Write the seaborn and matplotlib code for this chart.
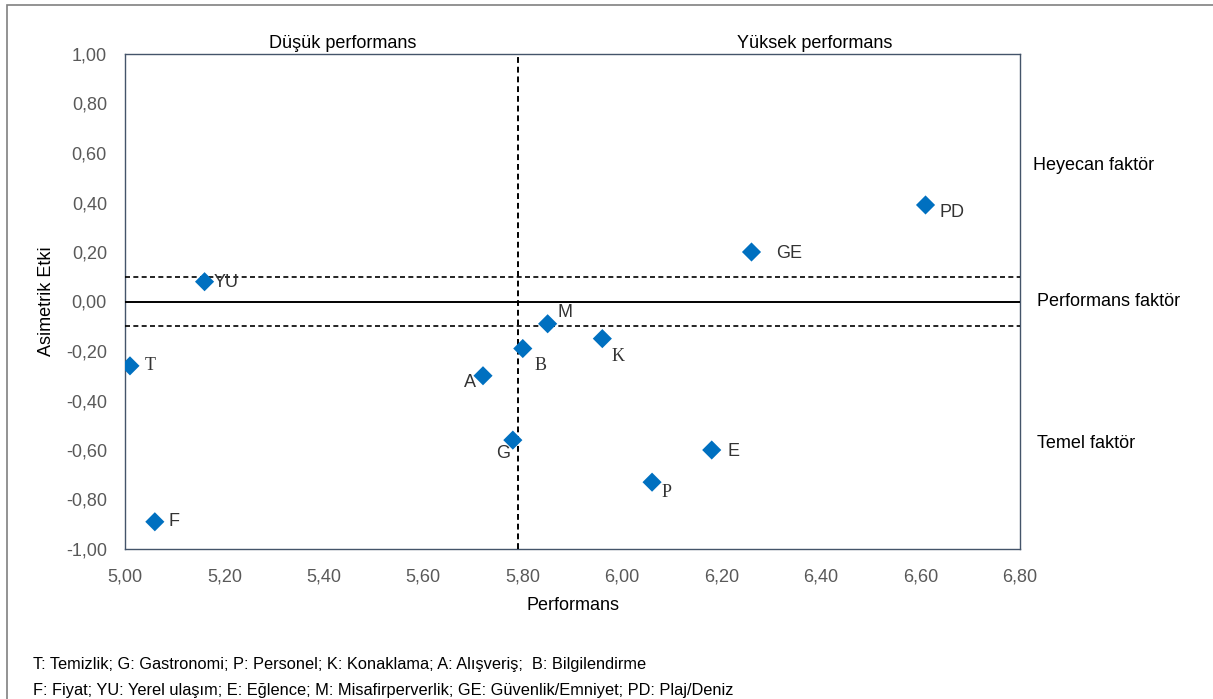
import matplotlib
matplotlib.use("Agg")
import matplotlib.pyplot as plt
import seaborn as sns
import pandas as pd
from matplotlib.ticker import FuncFormatter, MultipleLocator
from matplotlib.patches import Rectangle

# ---- data ----
codes = ["YU", "T", "F", "A", "B", "M", "K", "G", "E", "P", "GE", "PD"]
performans = [5.16, 5.01, 5.06, 5.72, 5.80, 5.85, 5.96, 5.78, 6.18, 6.06, 6.26, 6.61]
asimetrik = [0.08, -0.26, -0.89, -0.30, -0.19, -0.09, -0.15, -0.56, -0.60, -0.73, 0.20, 0.39]
mean_perf = 5.79
band = 0.10
footer1 = "T: Temizlik; G: Gastronomi; P: Personel; K: Konaklama; A: Alışveriş;  B: Bilgilendirme"
footer2 = "F: Fiyat; YU: Yerel ulaşım; E: Eğlence; M: Misafirperverlik; GE: Güvenlik/Emniyet; PD: Plaj/Deniz"

df = pd.DataFrame({"code": codes, "Performans": performans, "Asimetrik Etki": asimetrik})

# label offsets in pixels (dx, dy up), alignment, font
label_style = {
    "YU": (9, -1, "left", "sans"),
    "T": (15, 0, "left", "serif"),
    "F": (14, 0, "left", "sans"),
    "A": (-7, -7, "right", "sans"),
    "B": (12, -17, "left", "serif"),
    "M": (10, 11, "left", "sans"),
    "K": (9, -18, "left", "serif"),
    "G": (-3, -13, "right", "sans"),
    "E": (16, -1, "left", "sans"),
    "P": (9, -10, "left", "serif"),
    "GE": (25, -1, "left", "sans"),
    "PD": (14, -8, "left", "sans"),
}

sns.set_theme(style="white")
plt.rcParams["font.family"] = ["Liberation Sans", "DejaVu Sans"]

W, H = 1213, 699
fig = plt.figure(figsize=(W / 100, H / 100), dpi=100)
fig.patch.set_facecolor("white")
ax = fig.add_axes([125 / W, 1 - 549 / H, (1020 - 125) / W, (549 - 54) / H])

sns.scatterplot(data=df, x="Performans", y="Asimetrik Etki", marker="D", s=95,
                color="#0070C0", edgecolor="none", ax=ax, zorder=5)

ax.set_xlim(5.0, 6.8)
ax.set_ylim(-1.0, 1.0)
ax.xaxis.set_major_locator(MultipleLocator(0.2))
ax.yaxis.set_major_locator(MultipleLocator(0.2))
fmt = FuncFormatter(lambda v, p: f"{v:.2f}".replace(".", ","))
ax.xaxis.set_major_formatter(fmt)
ax.yaxis.set_major_formatter(fmt)
ax.tick_params(axis="both", length=0, labelsize=13, labelcolor="#595959")
ax.tick_params(axis="y", pad=13)
ax.tick_params(axis="x", pad=14)

for s in ax.spines.values():
    s.set_color("#44546A")
    s.set_linewidth(1.0)

ax.axvline(mean_perf, color="black", ls=(0, (3, 2)), lw=1.4, zorder=3)
ax.axhline(band, color="black", ls=(0, (3, 2)), lw=1.2, zorder=3)
ax.axhline(-band, color="black", ls=(0, (3, 2)), lw=1.2, zorder=3)
ax.axhline(0, color="black", lw=1.4, zorder=3)

ax.set_xlabel("Performans", fontsize=13, color="black", labelpad=8)
ax.set_ylabel("Asimetrik Etki", fontsize=13, color="black", labelpad=8)

for c, x, y in zip(codes, performans, asimetrik):
    dx, dy, ha, fam = label_style[c]
    family = ["Liberation Serif", "DejaVu Serif"] if fam == "serif" else ["Liberation Sans", "DejaVu Sans"]
    ax.annotate(c, (x, y), xytext=(dx * 0.72, dy * 0.72), textcoords="offset points",
                ha=ha, va="center", fontsize=13, color="#333333", family=family, zorder=6)

# quadrant / factor labels (figure pixel coordinates)
def ftext(px, py, s, **kw):
    fig.text(px / W, 1 - py / H, s, fontsize=13, color="black", **kw)

ftext(343, 44, "Düşük performans", ha="center", va="center")
ftext(815, 44, "Yüksek performans", ha="center", va="center")
ftext(1033, 166, "Heyecan faktör", ha="left", va="center")
ftext(1037, 301, "Performans faktör", ha="left", va="center")
ftext(1037, 444, "Temel faktör", ha="left", va="center")

fig.text(33 / W, 1 - 665 / H, footer1, fontsize=11.8, color="black", ha="left", va="center")
fig.text(33 / W, 1 - 690 / H, footer2, fontsize=11.8, color="black", ha="left", va="center")

# outer frame
fig.patches.append(Rectangle((7 / W, -0.05), 1.1, 1 - 5 / H + 0.05, transform=fig.transFigure,
                             fill=False, edgecolor="#808080", lw=1.2))

fig.savefig("out.png", dpi=100)
